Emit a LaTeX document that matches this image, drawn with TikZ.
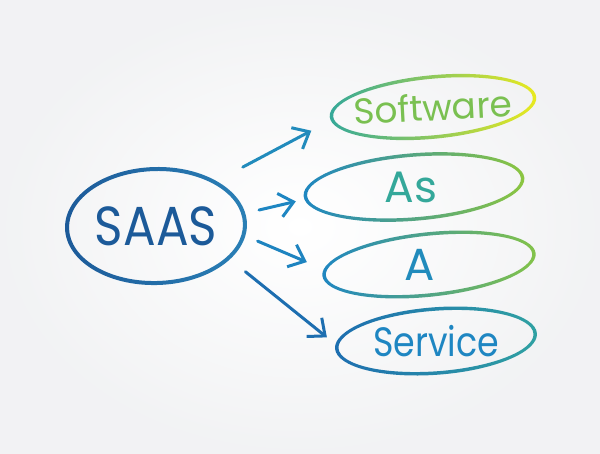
\documentclass[tikz,border=0pt]{standalone}
\usepackage{fontspec}
\setmainfont{Poppins}
\usetikzlibrary{shapes.geometric, arrows.meta}

\definecolor{bggray}{HTML}{EDEEF0}
\definecolor{saasdark}{HTML}{1C5A99}
\definecolor{saaslight}{HTML}{2A80B6}
\definecolor{teal}{HTML}{34A89A}
\definecolor{leaf}{HTML}{8CC63F}
\definecolor{lemon}{HTML}{EAEA1E}
\definecolor{sky}{HTML}{1E86C2}
\definecolor{ocean}{HTML}{1D6EB0}

% shaded outline round a node: node, x radius, y radius, angle, width, left, right
\newcommand{\ring}[7]{%
  \shade[left color=#6, right color=#7, even odd rule, rotate around={#4:(#1.center)}]
    (#1.center) ellipse [x radius=#2+#5/2, y radius=#3+#5/2]
    (#1.center) ellipse [x radius=#2-#5/2, y radius=#3-#5/2];}

\begin{document}
\begin{tikzpicture}[x=1pt, y=1pt,
    oval/.style={ellipse, inner sep=0pt, outer sep=0pt},
    word/.style={font=\fontsize{#1}{#1}\selectfont},
    arr/.style={-{Straight Barb[length=14pt,width=24pt]}, line width=3pt, line cap=round}]

    % background
    \shade[inner color=white, outer color=bggray!75!white] (0,0) rectangle (600,453);
    \useasboundingbox (0,0) rectangle (600,453);

    % acronym
    \node[oval, minimum width=178, minimum height=114,
          label={[word=55, text=saasdark, xscale=0.88]center:SAAS}] (saas) at (156,227) {};

    % expansion
    \node[oval, minimum width=204, minimum height=60,
          label={[word=36, text=leaf!80!teal, rotate=3]center:Software}] (soft) at (433,346) {};
    \node[oval, minimum width=218, minimum height=64,
          label={[word=44, text=teal, xshift=-3]center:As}] (as) at (414,266) {};
    \node[oval, minimum width=211, minimum height=61,
          label={[word=45, text=sky!85!teal, xshift=-9]center:A}] (a) at (429,188.5) {};
    \node[oval, minimum width=199, minimum height=64,
          label={[word=41, text=sky, xscale=0.85]center:Service}] (serv) at (436,112) {};

    \ring{saas}{89}{57}{1.5}{4}{saasdark}{saaslight}
    \ring{soft}{102}{30}{5.5}{3.5}{teal}{lemon}
    \ring{as}{109}{32}{4.7}{3.5}{sky}{leaf}
    \ring{a}{105.5}{30.5}{6}{3.5}{sky}{leaf!90!teal}
    \ring{serv}{99.5}{32}{4.3}{3.5}{ocean}{teal!80!sky}

    % arrows
    \draw[arr, sky!85!teal, shorten <=33pt, shorten >=29pt] (saas.37) -- (soft.186);
    \draw[arr, sky, shorten <=16.5pt, shorten >=16pt] (saas.8) -- (as.186);
    \draw[arr, sky!90!ocean, shorten <=15pt, shorten >=20pt] (saas.354) -- (a.183);
    \draw[arr, ocean, shorten <=21pt, shorten >=14pt] (saas.336) -- (serv.183);
\end{tikzpicture}
\end{document}
